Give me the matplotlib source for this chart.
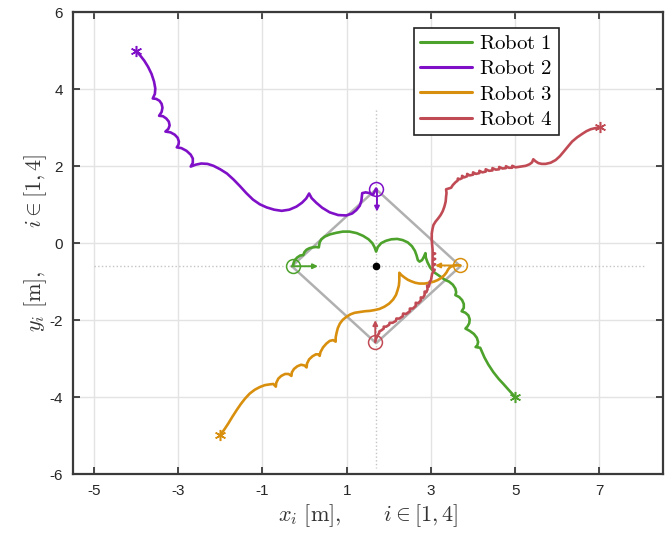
import matplotlib
matplotlib.use("Agg")
import matplotlib.pyplot as plt

plt.rcParams['mathtext.fontset'] = 'cm'
plt.rcParams['font.family'] = ['Liberation Sans', 'DejaVu Sans']

# ---------------- data ----------------
robot_labels = ['Robot 1', 'Robot 2', 'Robot 3', 'Robot 4']
robot_colors = ['#4DA22C', '#7F10C8', '#D98F0E', '#C14B55']

r1_x = [5.0, 4.85, 4.72, 4.61, 4.48, 4.36, 4.27, 4.21, 4.17, 4.06,
        4.10, 4.12, 4.09, 4.02, 3.92, 3.82,
        3.87, 3.91, 3.92, 3.89, 3.82, 3.73,
        3.78, 3.78, 3.74, 3.67, 3.58,
        3.60, 3.58, 3.52, 3.43, 3.33,
        3.20, 3.08, 2.98, 2.92, 2.88, 2.87, 2.83, 2.79, 2.73, 2.69, 2.66, 2.62, 2.55, 2.45,
        2.33, 2.20, 2.06, 1.93, 1.82, 1.74, 1.70, 1.66, 1.61, 1.52, 1.39, 1.24, 1.07, 0.91,
        0.76, 0.61, 0.48, 0.40, 0.36, 0.34, 0.27, 0.20, 0.12, 0.05, 0.00, -0.03, -0.10, -0.17,
        -0.23, -0.26, -0.27]
r1_y = [-4.0, -3.82, -3.66, -3.53, -3.35, -3.15, -2.97, -2.82, -2.72, -2.70,
        -2.66, -2.57, -2.46, -2.36, -2.28, -2.22,
        -2.16, -2.08, -1.98, -1.88, -1.81, -1.77,
        -1.68, -1.58, -1.48, -1.40, -1.35,
        -1.28, -1.18, -1.08, -1.00, -0.95,
        -0.85, -0.76, -0.63, -0.50, -0.38, -0.26, -0.36, -0.44, -0.48, -0.44, -0.32, -0.20, -0.08, 0.02,
        0.08, 0.11, 0.10, 0.06, 0.0, -0.10, -0.22, -0.10, 0.0, 0.10, 0.19, 0.26, 0.30, 0.30,
        0.27, 0.23, 0.17, 0.10, 0.02, -0.11, -0.10, -0.11, -0.13, -0.17, -0.23, -0.31, -0.32, -0.37,
        -0.44, -0.52, -0.59]

r2_x = [-4.0, -3.90, -3.80, -3.71, -3.63, -3.57, -3.54, -3.55, -3.60,
        -3.52, -3.44, -3.39, -3.37, -3.39, -3.45,
        -3.36, -3.28, -3.22, -3.20, -3.23, -3.30,
        -3.18, -3.08, -3.01, -2.98, -2.99, -3.03,
        -2.92, -2.80, -2.70, -2.65, -2.65, -2.70,
        -2.58, -2.45, -2.30, -2.16, -2.00, -1.84, -1.68, -1.53, -1.38, -1.22, -1.06, -0.90,
        -0.72, -0.54, -0.36, -0.19, -0.06, 0.04, 0.11,
        0.17, 0.28, 0.42, 0.60, 0.80, 0.99, 1.13, 1.23, 1.31, 1.35, 1.37,
        1.45, 1.55, 1.62, 1.66, 1.70]
r2_y = [5.0, 4.88, 4.74, 4.58, 4.40, 4.20, 4.02, 3.88, 3.76,
        3.75, 3.70, 3.62, 3.52, 3.41, 3.31,
        3.30, 3.24, 3.16, 3.06, 2.97, 2.90,
        2.88, 2.82, 2.74, 2.64, 2.56, 2.49,
        2.47, 2.40, 2.30, 2.20, 2.09, 1.99,
        2.04, 2.07, 2.06, 2.01, 1.92, 1.81, 1.65, 1.48, 1.30, 1.13, 1.01, 0.93,
        0.87, 0.84, 0.87, 0.95, 1.05, 1.16, 1.29,
        1.17, 1.05, 0.92, 0.80, 0.73, 0.72, 0.77, 0.86, 0.97, 1.10, 1.30,
        1.32, 1.30, 1.25, 1.33, 1.42]

r3_x = [-2.0, -1.90, -1.81, -1.71, -1.61, -1.51, -1.41, -1.30, -1.18, -1.06, -0.94, -0.82, -0.74, -0.68,
        -0.67, -0.62, -0.55, -0.46, -0.38, -0.31,
        -0.30, -0.25, -0.17, -0.08, 0.00, 0.05,
        0.06, 0.11, 0.19, 0.27, 0.33, 0.36,
        0.38, 0.44, 0.52, 0.60, 0.68, 0.74,
        0.74, 0.76, 0.79, 0.84, 0.91, 0.99, 1.09, 1.19, 1.31, 1.43, 1.55, 1.66, 1.78, 1.90, 2.01,
        2.10, 2.17, 2.21, 2.24, 2.25, 2.25, 2.25,
        2.30, 2.37, 2.45, 2.53, 2.63, 2.73, 2.85, 2.96, 3.07, 3.16, 3.25, 3.32, 3.37, 3.41, 3.46,
        3.55, 3.62, 3.70]
r3_y = [-4.99, -4.84, -4.69, -4.51, -4.34, -4.18, -4.04, -3.91, -3.81, -3.74, -3.69, -3.67, -3.66, -3.73,
        -3.63, -3.52, -3.45, -3.40, -3.40, -3.45,
        -3.36, -3.27, -3.20, -3.16, -3.18, -3.23,
        -3.13, -3.02, -2.94, -2.89, -2.89, -2.93,
        -2.83, -2.71, -2.61, -2.54, -2.52, -2.56,
        -2.45, -2.34, -2.21, -2.09, -1.99, -1.92, -1.85, -1.81, -1.79, -1.77, -1.76, -1.74, -1.71, -1.65, -1.57,
        -1.47, -1.35, -1.22, -1.10, -0.98, -0.87, -0.77,
        -0.83, -0.89, -0.95, -0.99, -1.03, -1.05, -1.05, -1.03, -1.00, -0.96, -0.90, -0.83, -0.76, -0.68, -0.62,
        -0.58, -0.57, -0.58]

r4_x = [7.01, 6.90, 6.79, 6.69, 6.59, 6.47, 6.35, 6.25, 6.16, 6.06, 5.96, 5.84, 5.72, 5.63, 5.55, 5.48,
        5.43, 5.40, 5.34, 5.25, 5.13, 5.01,
        4.93, 4.93, 4.85, 4.78, 4.78, 4.70, 4.62, 4.62, 4.54, 4.46, 4.46, 4.38, 4.30, 4.30, 4.22,
        4.15, 4.15, 4.07, 4.00, 4.00, 3.92, 3.86, 3.86, 3.79, 3.74, 3.74, 3.68, 3.64, 3.63, 3.59,
        3.52, 3.48, 3.42, 3.36, 3.37, 3.36, 3.35, 3.32, 3.28, 3.23, 3.17, 3.11, 3.06, 3.04, 3.02, 3.02,
        3.03, 3.04, 3.04, 3.10, 3.04, 3.04, 3.10, 3.04, 3.04, 3.10, 3.04, 3.04, 3.09, 3.03,
        3.00, 2.97, 2.97, 2.95, 2.91, 2.92, 2.89, 2.85, 2.85, 2.81, 2.76, 2.76, 2.70, 2.64, 2.64,
        2.57, 2.50, 2.50, 2.41, 2.34, 2.33, 2.25, 2.18, 2.17, 2.09, 2.02, 2.01, 1.94, 1.88, 1.88,
        1.82, 1.78, 1.77, 1.74, 1.70, 1.68]
r4_y = [3.01, 2.99, 2.96, 2.91, 2.84, 2.75, 2.64, 2.51, 2.39, 2.26, 2.16, 2.09, 2.06, 2.06, 2.08, 2.13,
        2.18, 2.10, 2.05, 2.01, 1.99, 1.97,
        2.01, 1.96, 1.96, 2.00, 1.95, 1.94, 1.98, 1.92, 1.91, 1.95, 1.89, 1.88, 1.92, 1.86, 1.84,
        1.88, 1.82, 1.80, 1.84, 1.78, 1.76, 1.80, 1.74, 1.71, 1.75, 1.69, 1.66, 1.68, 1.62, 1.59,
        1.51, 1.44, 1.42, 1.40, 1.30, 1.21, 1.08, 0.95, 0.83, 0.73, 0.64, 0.56, 0.47, 0.38, 0.25, 0.08,
        -0.05, -0.18, -0.26, -0.27, -0.30, -0.40, -0.41, -0.44, -0.54, -0.55, -0.58, -0.68, -0.69, -0.79,
        -0.97, -1.00, -1.05, -1.13, -1.10, -1.20, -1.28, -1.26, -1.35, -1.42, -1.41, -1.49, -1.56, -1.55, -1.63,
        -1.70, -1.70, -1.77, -1.84, -1.83, -1.90, -1.96, -1.96, -2.02, -2.07, -2.07, -2.12, -2.17, -2.17, -2.22,
        -2.27, -2.29, -2.34, -2.39, -2.48, -2.56]

# target formation (diamond) and its centre
center = (1.70, -0.60)
form_x = [-0.30, 1.70, 3.70, 1.70, -0.30]
form_y = [-0.60, 1.40, -0.60, -2.60, -0.60]
# end heading arrows (start x, start y, dx, dy)
arrow_x = [-0.30, 1.72, 3.70, 1.68]
arrow_y = [-0.60, 1.40, -0.58, -2.58]
arrow_u = [0.62, 0.0, -0.60, 0.0]
arrow_v = [0.0, -0.58, 0.0, 0.58]
# dotted cross-hair
hline_x = [-5.0, 8.1]
vline_y = [3.45, -5.85]

xticks = [-5, -3, -1, 1, 3, 5, 7]
yticks = [-6, -4, -2, 0, 2, 4, 6]

paths = [(r1_x, r1_y), (r2_x, r2_y), (r3_x, r3_y), (r4_x, r4_y)]

# ---------------- figure ----------------
fig = plt.figure(figsize=(6.7, 5.35), dpi=100)
ax = fig.add_axes([72.7 / 670, 1 - 474 / 535, (662.7 - 72.7) / 670, (474 - 12.3) / 535])
ax.set_xlim(-5.5, 8.5)
ax.set_ylim(-6, 6)
ax.set_xticks(xticks)
ax.set_yticks(yticks)
ax.set_xticklabels([str(t) for t in xticks])
ax.set_yticklabels([str(t) for t in yticks])
ax.grid(True, color='#E3E3E3', lw=1.0)
ax.set_axisbelow(True)
for s in ax.spines.values():
    s.set_color('#3A3A3A')
    s.set_linewidth(1.6)
ax.tick_params(direction='in', length=5, width=1.3, colors='#3A3A3A', labelcolor='#262626',
               labelsize=11, top=True, right=True, pad=7)

# cross-hair
ax.plot(hline_x, [center[1], center[1]], ls=':', color='#C4C4C4', lw=1.0, zorder=1)
ax.plot([center[0], center[0]], vline_y, ls=':', color='#C4C4C4', lw=1.0, zorder=1)
# formation
ax.plot(form_x, form_y, color='#B0B0B0', lw=1.8, zorder=2)

handles = []
for (px, py), c, lab in zip(paths, robot_colors, robot_labels):
    h, = ax.plot(px, py, color=c, lw=1.9, solid_joinstyle='round', solid_capstyle='round', zorder=3,
                 label=r'$\mathrm{%s}$' % lab.replace(' ', r'\ '))
    handles.append(h)
    ax.plot(px[0], py[0], marker=(6, 2, 0), ms=8, color=c, mew=1.1, zorder=4)
    ax.plot(px[-1], py[-1], marker='o', ms=10, mfc='none', mec=c, mew=1.1, zorder=4)

for x0, y0, u, v, c in zip(arrow_x, arrow_y, arrow_u, arrow_v, robot_colors):
    ax.annotate('', xy=(x0 + u, y0 + v), xytext=(x0, y0),
                arrowprops=dict(arrowstyle='-|>', color=c, lw=1.4, mutation_scale=7,
                                shrinkA=0, shrinkB=0), zorder=5)

ax.plot(center[0], center[1], 'o', color='black', ms=4.5, zorder=6)

leg = ax.legend(handles=handles, loc='upper left', bbox_to_anchor=(0.578, 0.966),
                fontsize=15, frameon=True, fancybox=False, framealpha=1, edgecolor='#222222',
                handlelength=2.5, handletextpad=0.35, labelspacing=0.3, borderpad=0.3,
                borderaxespad=0)
leg.get_frame().set_linewidth(1.2)
for line in leg.get_lines():
    line.set_linewidth(2.2)

ax.set_xlabel(r'$x_i\ [\mathrm{m}],\quad\quad i \in [1,4]$', fontsize=16, labelpad=3, color='#333333')
ax.set_ylabel(r'$y_i\ [\mathrm{m}],\quad\quad i \in [1,4]$', fontsize=16, labelpad=0, color='#333333')

fig.savefig('out.png', dpi=100)
